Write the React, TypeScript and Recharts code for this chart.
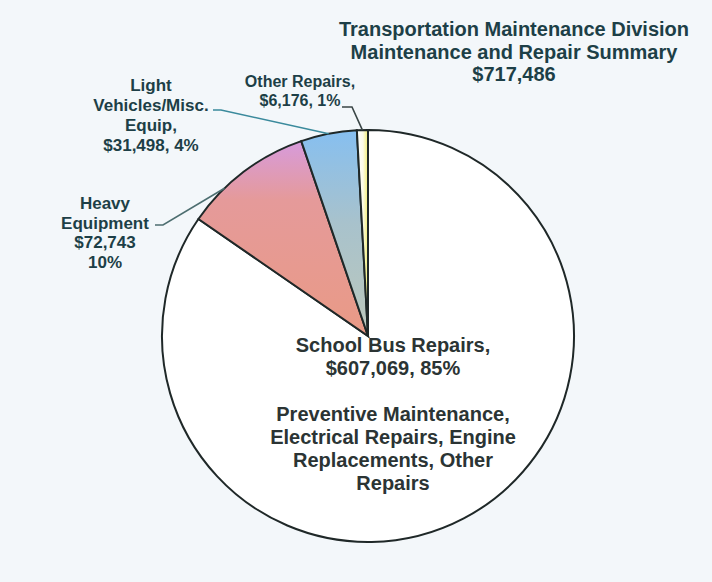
import React from 'react';
import { PieChart, Pie, Cell } from 'recharts';

const categories = ['School Bus Repairs', 'Heavy Equipment', 'Light Vehicles/Misc. Equip', 'Other Repairs'];
const amounts = [607069, 72743, 31498, 6176];
const titleLines = ['Transportation Maintenance Division', 'Maintenance and Repair Summary', '$717,486'];
const schoolBusNotes = ['Preventive Maintenance,', 'Electrical Repairs, Engine', 'Replacements, Other', 'Repairs'];
const sliceFills = ['#ffffff', 'url(#heavyFill)', 'url(#lightFill)', 'url(#otherFill)'];

const total = amounts.reduce((a, b) => a + b, 0);
const money = (v: number) => `$${v.toLocaleString('en-US')}`;
const pct = (v: number) => `${Math.round((v / total) * 100)}%`;

// text lines shown for each slice
const labelText = [
  [`${categories[0]},`, `${money(amounts[0])}, ${pct(amounts[0])}`, '', ...schoolBusNotes],
  ['Heavy', 'Equipment', money(amounts[1]), pct(amounts[1])],
  ['Light', 'Vehicles/Misc.', 'Equip,', `${money(amounts[2])}, ${pct(amounts[2])}`],
  [`${categories[3]},`, `${money(amounts[3])}, ${pct(amounts[3])}`],
];

const data = categories.map((name, i) => ({ name, value: amounts[i] }));

// label placement relative to the pie centre
const labelLayout = [
  { dx: 25, dy: 16, lh: 23, size: 20, color: '#2b3434', leader: null },
  { dx: -263, dy: -127, lh: 19.5, size: 17, color: '#1d3f47', leader: { sx: -213, sy: -111, hook: 8, angleShift: 7, color: '#4d6e70' } },
  { dx: -217, dy: -245, lh: 20, size: 17, color: '#1d3f47', leader: { sx: -155, sy: -226, hook: 8, angleShift: 0, color: '#3a8a9c' } },
  { dx: -68, dy: -249, lh: 19, size: 16, color: '#1d3f47', leader: { sx: -26, sy: -229, hook: 10, angleShift: 0, color: '#3a4646' } },
];

const FONT = '"Liberation Sans", Arial, sans-serif';
const RAD = Math.PI / 180;

const renderLabel = (props: any) => {
  const { cx, cy, midAngle, outerRadius, index } = props;
  const lay = labelLayout[index];
  const lines = labelText[index];
  let leader = null;
  if (lay.leader) {
    const a = (midAngle + lay.leader.angleShift) * RAD;
    const ex = cx + outerRadius * Math.cos(-a);
    const ey = cy + outerRadius * Math.sin(-a);
    const sx = cx + lay.leader.sx;
    const sy = cy + lay.leader.sy;
    leader = (
      <polyline
        points={`${sx},${sy} ${sx + lay.leader.hook},${sy} ${ex},${ey}`}
        fill="none"
        stroke={lay.leader.color}
        strokeWidth={1.6}
      />
    );
  }
  return (
    <g key={`lbl-${index}`}>
      {leader}
      <text
        x={cx + lay.dx}
        y={cy + lay.dy}
        textAnchor="middle"
        fill={lay.color}
        fontFamily={FONT}
        fontWeight="bold"
        fontSize={lay.size}
      >
        {lines.map((t, i) => (
          <tspan key={i} x={cx + lay.dx} y={cy + lay.dy + i * lay.lh}>
            {t}
          </tspan>
        ))}
      </text>
    </g>
  );
};

export default function App() {
  return (
    <div style={{ position: 'absolute', left: 0, top: 0, width: 712, height: 582, background: '#f3f7fa', overflow: 'hidden' }}>
      <PieChart width={712} height={582} margin={{ top: 0, right: 0, bottom: 0, left: 0 }}>
        <defs>
          <linearGradient id="heavyFill" x1="0" y1="0" x2="0" y2="1">
            <stop offset="0%" stopColor="#d79bdc" />
            <stop offset="30%" stopColor="#e59a9a" />
            <stop offset="100%" stopColor="#e99a86" />
          </linearGradient>
          <linearGradient id="lightFill" x1="0" y1="0" x2="0" y2="1">
            <stop offset="0%" stopColor="#86bff0" />
            <stop offset="45%" stopColor="#a8c2cc" />
            <stop offset="100%" stopColor="#bcc8bc" />
          </linearGradient>
          <linearGradient id="otherFill" x1="0" y1="0" x2="1" y2="0">
            <stop offset="0%" stopColor="#ffffff" />
            <stop offset="55%" stopColor="#fbfbe8" />
            <stop offset="100%" stopColor="#f2ee6e" />
          </linearGradient>
        </defs>
        <Pie
          data={data}
          dataKey="value"
          nameKey="name"
          cx={368}
          cy={336}
          outerRadius={206}
          startAngle={90}
          endAngle={-270}
          stroke="#1f2828"
          strokeWidth={2}
          label={renderLabel}
          labelLine={false}
          isAnimationActive={false}
        >
          {data.map((d, i) => (
            <Cell key={d.name} fill={sliceFills[i]} />
          ))}
        </Pie>
      </PieChart>
      <div
        style={{
          position: 'absolute',
          left: 316,
          top: 18,
          width: 396,
          textAlign: 'center',
          fontFamily: FONT,
          fontWeight: 'bold',
          fontSize: 20,
          lineHeight: '22.5px',
          color: '#1d3f47',
        }}
      >
        {titleLines.map((t) => (
          <div key={t}>{t}</div>
        ))}
      </div>
    </div>
  );
}
